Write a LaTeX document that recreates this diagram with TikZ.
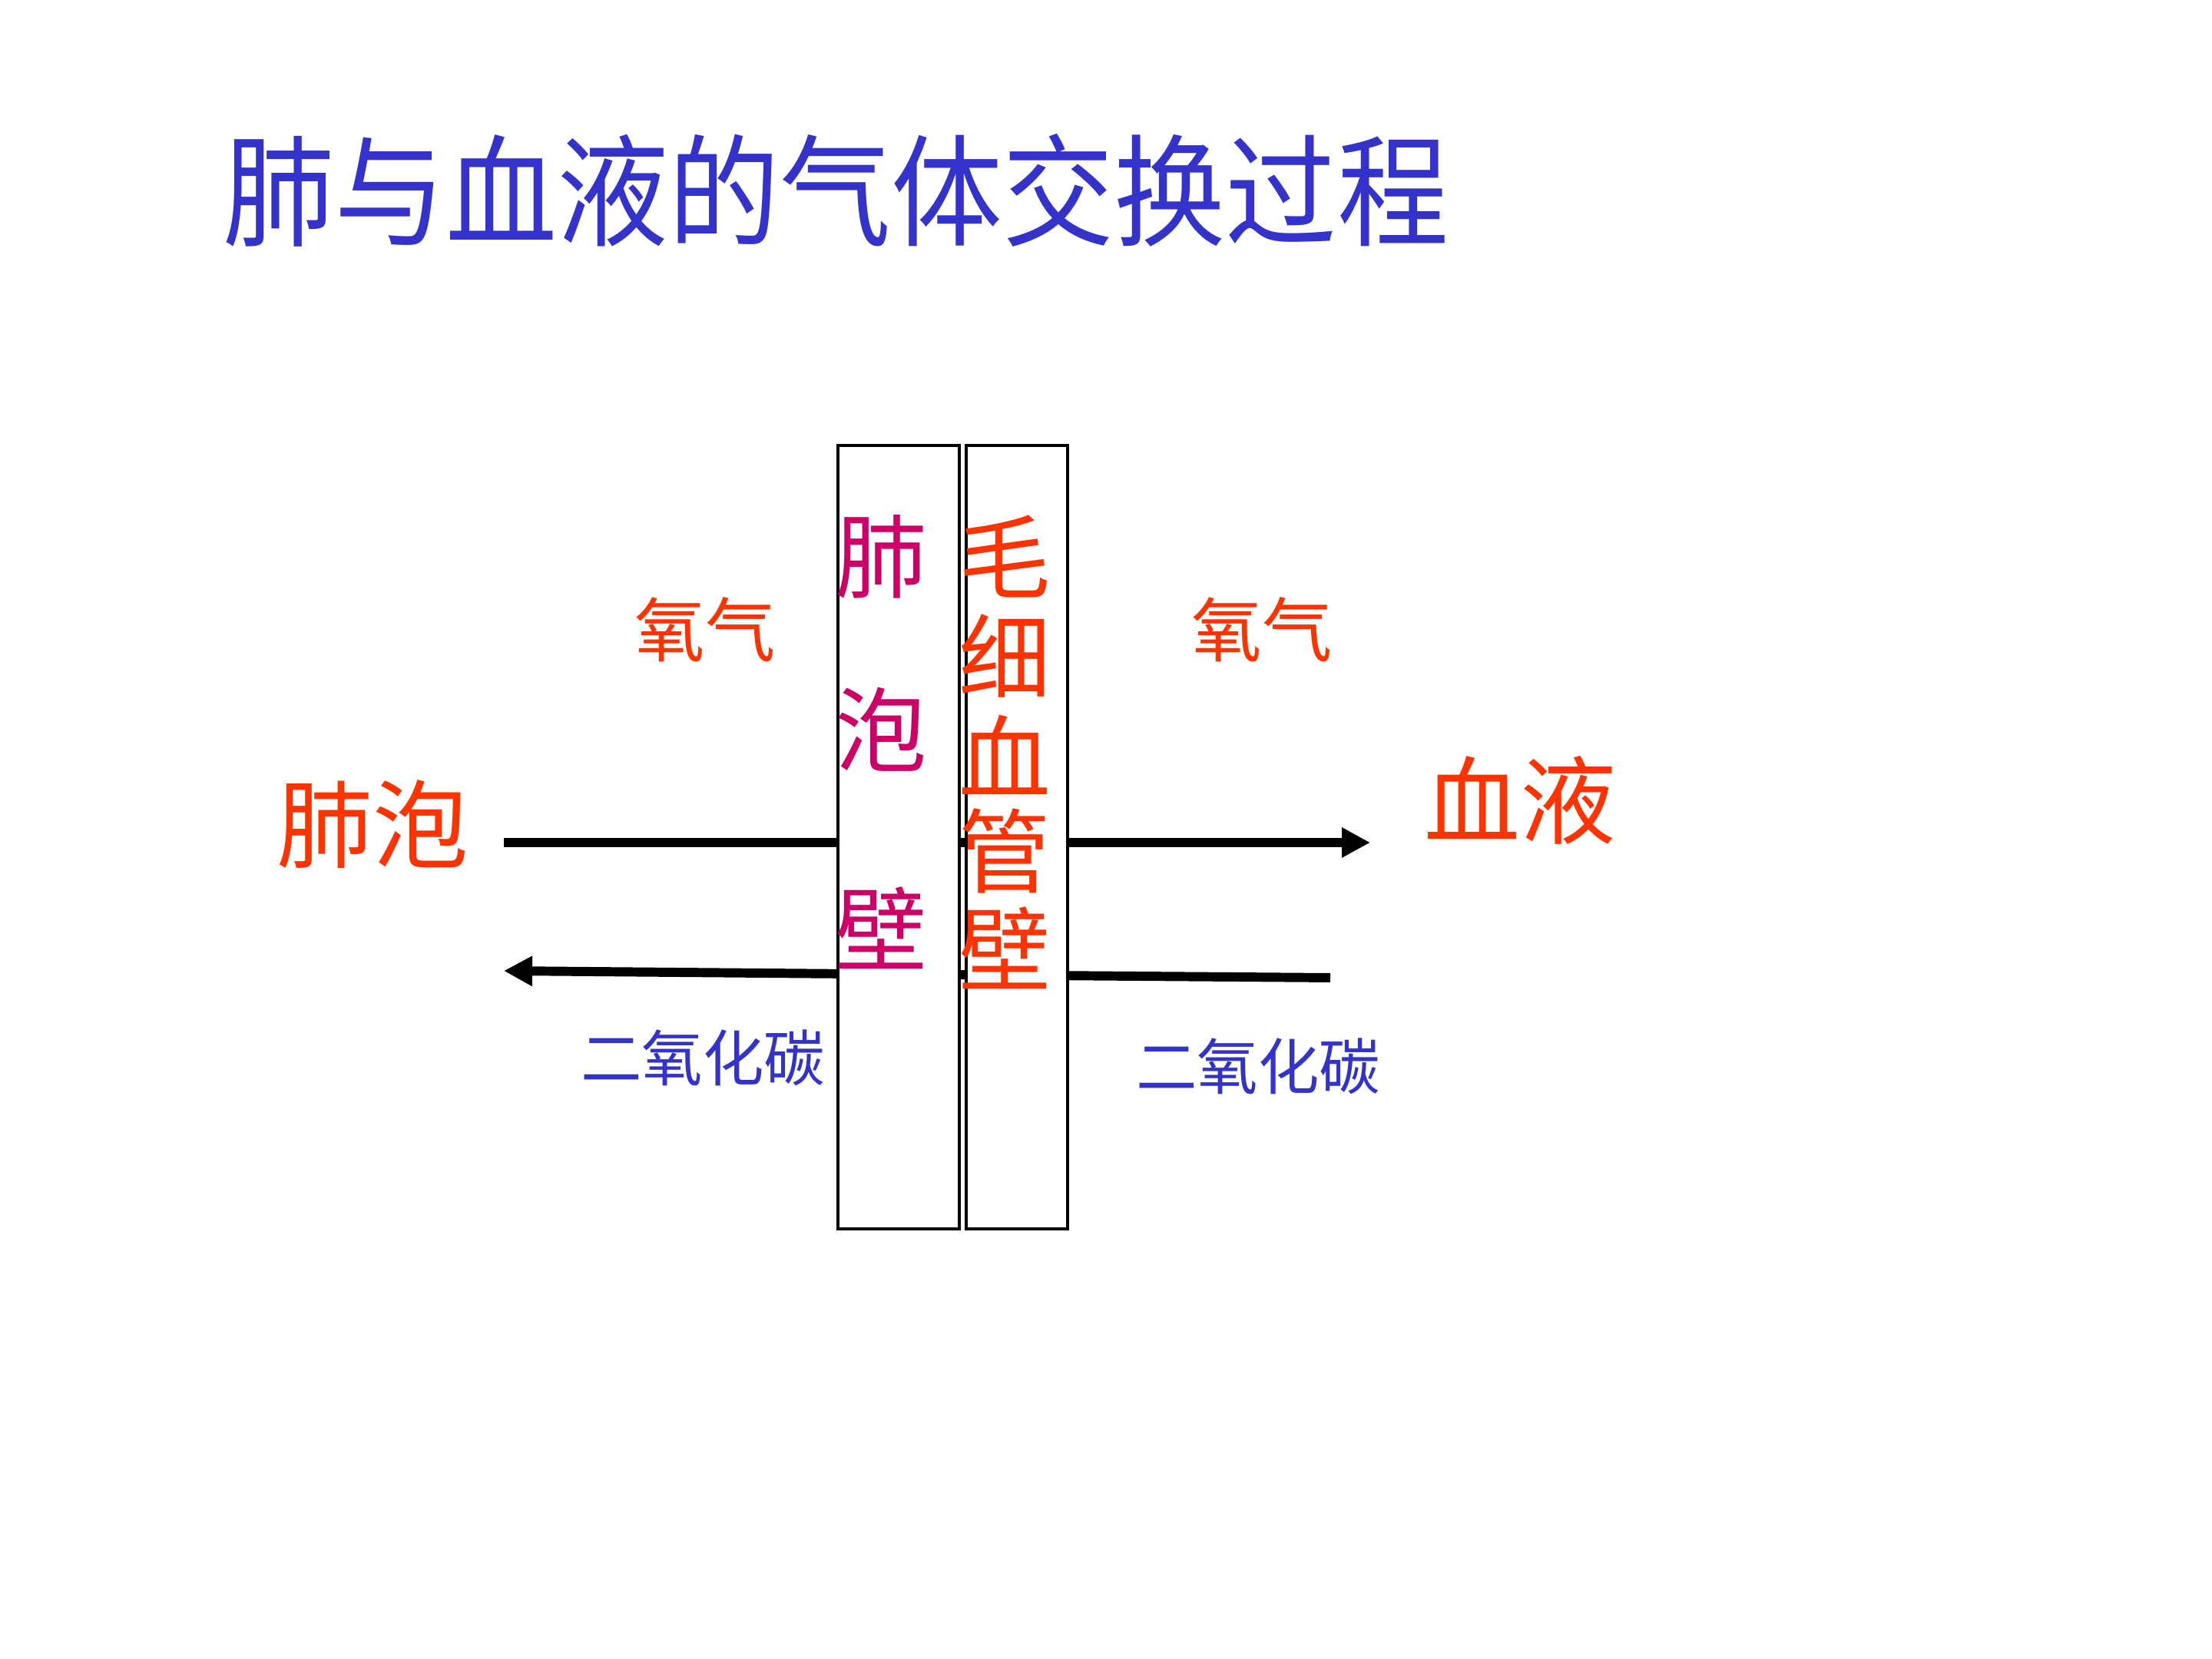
\documentclass[tikz,border=0pt]{standalone}
\usepackage{fontspec}
\setmainfont{Noto Sans CJK SC}
\usetikzlibrary{arrows.meta}
\definecolor{tblue}{HTML}{3333CC}
\definecolor{torange}{HTML}{FF3300}
\definecolor{tmag}{HTML}{CC0066}
\tikzset{
  flow/.style={line width=3.4pt},
  tip/.style={-{Triangle[length=0.37cm,width=0.37cm]}},
  wall/.style={draw=black,fill=white,line width=0.9pt},
  lbl/.style={inner sep=0pt},
  big/.style={lbl,text=torange,font=\fontsize{35.5}{40}\selectfont},
  gas/.style={lbl,text=torange,font=\fontsize{26}{30}\selectfont},
  co/.style={lbl,text=tblue,font=\fontsize{22.6}{26}\selectfont},
  vch/.style={lbl,font=\fontsize{34}{38}\selectfont},
}
\begin{document}
\begin{tikzpicture}
\useasboundingbox[fill=white] (0,0) rectangle (28.8,-21.6);
% title
\node[lbl,anchor=west,text=tblue,font=\fontsize{45}{54}\selectfont] (title) at (2.90,-2.48) {\scalebox{0.917}[1]{肺与血液的气体交换过程}};
% end points
\coordinate (o2l) at (6.56,-10.97);
\coordinate (o2r) at (17.84,-10.97);
\coordinate (col) at (6.56,-12.64);
\coordinate (com) at (11.10,-12.68);
\coordinate (cor) at (17.32,-12.73);
% flows
\draw[flow,tip] (o2l) -- (o2r);
\draw[flow] (cor) -- (com);
\draw[flow,tip] (com) -- (col);
% walls
\node[wall,minimum width=1.58cm,minimum height=10.2cm,inner sep=0pt] (alv) at (11.70,-10.90) {};
\node[wall,minimum width=1.32cm,minimum height=10.2cm,inner sep=0pt] (cap) at (13.24,-10.90) {};
% wall labels
\node[vch,text=tmag] (a1) at (11.47,-7.25) {肺};
\node[vch,text=tmag] (a2) at (11.47,-9.50) {泡};
\node[vch,text=tmag] (a3) at (11.47,-12.08) {壁};
\node[vch,text=torange] (c1) at (13.08,-7.24) {毛};
\node[vch,text=torange] (c2) at (13.08,-8.54) {细};
\node[vch,text=torange] (c3) at (13.08,-9.83) {血};
\node[vch,text=torange] (c4) at (13.08,-11.08) {管};
\node[vch,text=torange] (c5) at (13.08,-12.34) {壁};
% side labels
\node[big] (feipao) at (4.85,-10.73) {肺泡};
\node[big] (xueye) at (19.79,-10.42) {血液};
\node[gas] (o2a) at (9.18,-8.20) {氧气};
\node[gas] (o2b) at (16.43,-8.20) {氧气};
\node[co] (coa) at (9.15,-13.77) {二氧化碳};
\node[co] (cob) at (16.38,-13.88) {二氧化碳};
\end{tikzpicture}
\end{document}
